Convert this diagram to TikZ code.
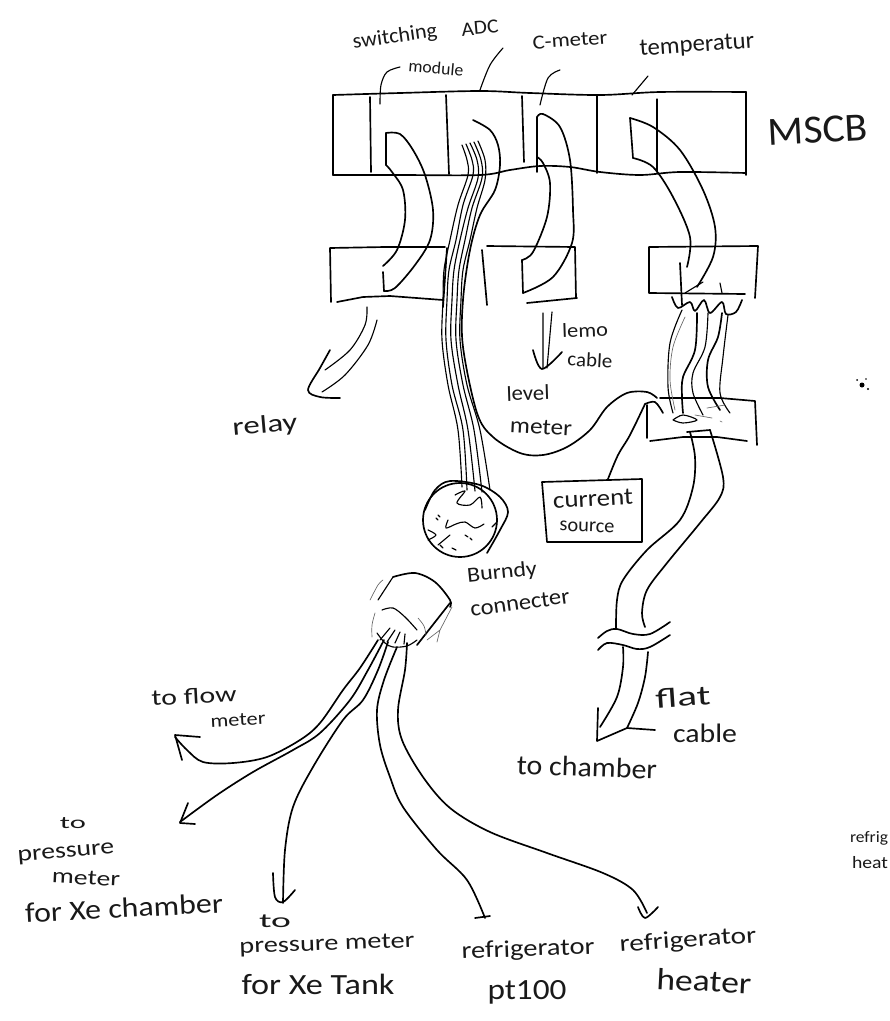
\documentclass[tikz,border=0pt]{standalone}
\usepackage{graphicx}
\usepackage{fontspec}
\setmainfont{Carlito}
% name, x, y, rotation, width in px, font size in pt, text
\newcommand\lab[7]{\node[rotate=#4,inner sep=0pt,text=black!90] (#1) at (#2,#3) {\resizebox{\dimexpr 0.75pt*#5\relax}{\height}{\fontsize{#6pt}{#6pt}\selectfont #7}};}
\newcommand\sk[2][ink]{\draw[#1] plot[smooth,tension=0.55] coordinates {#2};}
\tikzset{
 ink/.style={draw=black,line width=1.25pt,line cap=round,line join=round},
 fine/.style={draw=black!60,line width=0.5pt,line cap=round,line join=round},
 mid/.style={draw=black,line width=0.85pt,line cap=round,line join=round}
}
\begin{document}
\begin{tikzpicture}[x=0.75pt,y=-0.75pt]
\useasboundingbox (0,0) rectangle (889,1021);
\clip (0,0) rectangle (889,1021);
% MSCB box
\sk{(333,95) (400,93) (480,91) (530,93) (600,95) (660,92) (746,92)}
\sk{(333,175) (400,175) (480,175) (510,170) (540,166) (570,167) (600,172) (640,175) (680,172) (746,173)}
\draw[ink] (333,95)--(333,175) (746,92)--(746,175);
\draw[ink] (370,97)--(371,172) (446,95)--(449,174) (522,96)--(524,162) (597,96)--(597,173);
\draw[mid] (657,99)--(657,172);
% lower boxes
\draw[ink] (330,248)--(385,247)--(445,247) (330,248)--(331,302) (337,302)--(363,297)--(390,296)--(443,300) (447,248)--(443,307);
\draw[ink] (487,246)--(575,247)--(576,298) (482,250)--(487,305) (527,303)--(577,298);
\draw[ink] (649,293)--(649,247)--(758,246)--(755,298) (649,293)--(745,294);
% switching cable
\sk{(386,133) (400,134) (413,150) (425,175) (433,210) (430,240) (415,265) (395,288) (384,291)}
\sk{(383,266) (397,250) (405,220) (403,190) (392,172) (386,165)}
\draw[ink] (386,133)--(386,165) (384,291)--(383,272);
% C-meter cable
\sk{(537,117) (543,114) (560,127) (570,160) (573,210) (572,243) (553,277) (523,293)}
\sk{(522,260) (533,252) (547,217) (550,183) (543,163) (537,157)}
\draw[ink] (537,117)--(537,172) (523,293)--(522,260);
% temperature cable
\sk{(630,118) (653,127) (680,150) (703,190) (715,227) (713,257) (697,287)}
\sk{(633,158) (653,167) (673,197) (690,237) (687,267)}
\draw[ink] (630,118)--(633,158) (680,263)--(682,305);
% ADC wires
\sk[mid]{(462,145) (467,160) (468,175) (458,205) (450,240) (444,270) (443,300) (442,340) (448,385) (458,430) (462,487)}
\sk[mid]{(466,144) (472,160) (473,175) (463,205) (456,240) (449,270) (447,300) (446,340) (452,385) (463,430) (467,490)}
\sk[mid]{(470,143) (477,160) (478,178) (468,208) (460,240) (454,270) (452,300) (451,340) (458,385) (468,430) (475,491)}
\sk[mid]{(474,142) (481,160) (482,178) (472,208) (465,240) (459,270) (457,300) (456,340) (463,385) (474,430) (482,492)}
\sk[mid]{(478,141) (485,160) (485,180) (477,208) (470,240) (463,270) (461,300) (460,340) (467,385) (480,430) (490,490)}
% level-meter cable
\sk{(473,120) (490,130) (498,145) (500,165) (495,190) (480,215) (470,250) (463,300) (463,347) (477,413) (493,437) (520,453) (543,455) (567,447) (590,430) (607,407) (627,393) (647,392) (657,398)}
% current source
\draw[ink] (542,482)--(642,479)--(642,542)--(547,542)--cycle;
\sk{(608,479) (618,455) (630,435) (645,404)}
\sk{(645,404) (655,402) (663,413)}
% junction box
\draw[ink] (647,405)--(647,438) (650,441)--(683,437)--(717,437)--(747,441) (660,398)--(720,398)--(755,401)--(757,445);
% wires to junction box
\sk{(672,297) (678,308) (690,302) (695,311) (704,300) (710,313) (722,302) (726,314) (736,312) (742,300)}
\draw[mid] (685,293)--(703,282) (720,283)--(722,293);
\sk[mid]{(682,310) (670,343) (668,387) (673,413)}
\sk[fine]{(685,317) (673,347) (670,380) (675,410)}
\sk{(697,313) (695,350) (683,377) (682,397) (683,413)}
\sk[mid]{(708,313) (705,347) (693,373) (693,393) (703,415)}
\sk{(722,313) (718,337) (708,360) (708,387) (720,410)}
\sk[mid]{(728,315) (723,357) (720,393) (730,413)}
\sk[mid]{(673,420) (683,415) (697,420) (683,423) (673,420)}
\draw[fine] (707,408)--(725,405) (720,421)--(722,422) (695,415)--(712,418);
% flat cable
\draw[ink] (687,432)--(710,430);
\sk{(690,432) (695,457) (693,487) (680,520) (647,550) (623,580) (617,600) (616,628)}
\sk{(710,430) (723,477) (720,497) (700,523) (667,563) (647,590) (642,613) (645,627)}
\sk{(598,638) (607,631) (617,629) (633,634) (650,634) (670,622)}
\sk{(598,650) (607,643) (623,645) (637,649) (650,647) (670,635)}
\sk{(623,647) (623,667) (617,697) (600,727)}
\sk{(648,652) (645,677) (638,703) (627,728)}
\draw[ink] (598,708)--(597,741)--(627,728)--(655,730);
% Burndy connector
\draw[ink] (460,520) circle (37);
\sk{(425,510) (435,490) (450,481) (480,485) (500,497) (508,512) (500,530) (487,553)}
\sk[mid]{(455,495) (465,491) (457,503) (470,505) (480,497) (482,508)}
\sk[mid]{(448,520) (446,528) (456,524) (465,522) (475,528) (484,524)}
\sk[mid]{(428,530) (436,535) (428,540)}
\sk[mid]{(438,545) (444,540) (450,535)}
\draw[mid] (436,518)--(438,520) (465,535)--(468,537) (452,548)--(456,550) (470,538)--(472,540) (440,545)--(443,548) (492,527)--(497,522) (438,515)--(440,517);
% second connector
\sk{(393,577) (415,573) (435,582) (450,600) (450,607)}
\draw[ink] (450,603)--(417,645);
\draw[mid] (378,600)--(393,577);
\sk[mid]{(377,633) (385,643) (393,647) (407,646) (417,640)}
\sk[mid]{(382,610) (393,608) (405,617) (417,630)}
\sk[fine]{(370,600) (378,585) (383,580)}
\sk[fine]{(375,613) (372,625) (372,637)}
\sk[fine]{(418,618) (424,626) (426,635)}
\draw[fine] (427,640)--(440,630)--(437,642) (452,607)--(440,630);
\draw[mid] (380,640)--(390,628) (387,642)--(395,630) (395,643)--(400,632) (404,644)--(405,634);
% wires from second connector
\sk{(378,640) (360,668) (343,690) (320,723) (300,740) (267,757) (233,763) (203,762) (187,750) (175,737)}
\sk{(384,640) (368,670) (350,700) (320,733) (293,750) (253,772) (217,795) (180,822)}
\sk{(388,642) (378,670) (363,700) (343,720) (313,767) (293,807) (285,850) (283,903)}
\sk{(397,647) (384,680) (377,710) (380,745) (390,777) (403,807) (437,850) (467,880) (485,918)}
\sk{(407,643) (405,670) (398,710) (402,740) (423,777) (450,808) (490,832) (547,853) (603,873) (633,890) (647,913)}
% arrowheads
\draw[ink] (200,737)--(175,735)--(182,760);
\draw[ink] (188,803)--(180,823)--(195,824);
\sk{(273,873) (275,897) (283,902) (295,890)}
\draw[ink] (475,918)--(490,916);
\sk{(638,907) (645,918) (658,907)}
% relay arrow
\sk[mid]{(367,307) (365,325) (350,350) (325,370)}
\sk[mid]{(377,320) (368,345) (345,375) (322,392)}
\sk{(330,350) (320,368) (308,390) (320,397) (340,398)}
% lemo arrow
\draw[mid] (543,313)--(543,368) (552,312)--(547,368);
\sk[ink]{(533,350) (542,369) (562,352)}
% leaders
\sk[mid]{(400,67) (387,72) (381,85) (380,104)}
\sk[mid]{(503,48) (490,65) (480,90)}
\sk[mid]{(560,70) (548,78) (540,105)}
\draw[mid] (648,76)--(632,95);
% specks
\fill[black] (862,385) circle (2.5) (868,389) circle (1.2) (857,380) circle (1) (866,379) circle (0.8);
% labels
\lab{lsw}{395}{37}{8}{85}{16}{switching}
\lab{lmod}{436}{68}{-5}{55}{13}{module}
\lab{ladc}{480}{28}{5}{37}{15}{ADC}
\lab{lcm}{570}{40}{4}{75}{15}{C-meter}
\lab{ltemp}{697}{46}{4}{115}{18}{temperatur}
\lab{lmscb}{818}{130}{3}{100}{30}{MSCB}
\lab{llemo}{585}{330}{2}{46}{15}{lemo}
\lab{lcable}{590}{360}{-3}{45}{15}{cable}
\lab{llevel}{528}{393}{2}{43}{16}{level}
\lab{lmeter}{541}{427}{-3}{62}{17}{meter}
\lab{lrelay}{265}{426}{5}{65}{19}{relay}
\lab{lcur}{593}{499}{3}{80}{18}{current}
\lab{lsrc}{587}{527}{-2}{55}{15}{source}
\lab{lbur}{502}{573}{6}{70}{16}{Burndy}
\lab{lcon}{520}{603}{8}{100}{17}{connecter}
\lab{lflow}{194}{696}{3}{85}{17}{to flow}
\lab{lflowm}{238}{720}{3}{55}{14}{meter}
\lab{lto1}{73}{823}{0}{26}{13}{to}
\lab{lpr1}{66}{854}{5}{97}{17}{pressure}
\lab{lme1}{86}{878}{-3}{68}{16}{meter}
\lab{lfor1}{124}{908}{3}{198}{21}{for Xe chamber}
\lab{lto2}{275}{921}{0}{32}{15}{to}
\lab{lpr2}{327}{945}{2}{175}{17}{pressure meter}
\lab{lfor2}{318}{984}{0}{153}{22}{for Xe Tank}
\lab{lref1}{528}{950}{2}{133}{18}{refrigerator}
\lab{lpt}{527}{992}{0}{79}{22}{pt100}
\lab{lref2}{688}{941}{4}{137}{18}{refrigerator}
\lab{lhea}{704}{981}{-3}{95}{23}{heater}
\lab{lcha}{587}{767}{-2}{140}{21}{to chamber}
\lab{lfla}{683}{697}{4}{55}{21}{flat}
\lab{lcbl}{705}{733}{0}{64}{20}{cable}
\lab{lref3}{869}{838}{0}{38}{12}{refrig}
\lab{lhea3}{870}{863}{0}{36}{13}{heat}
\end{tikzpicture}
\end{document}
